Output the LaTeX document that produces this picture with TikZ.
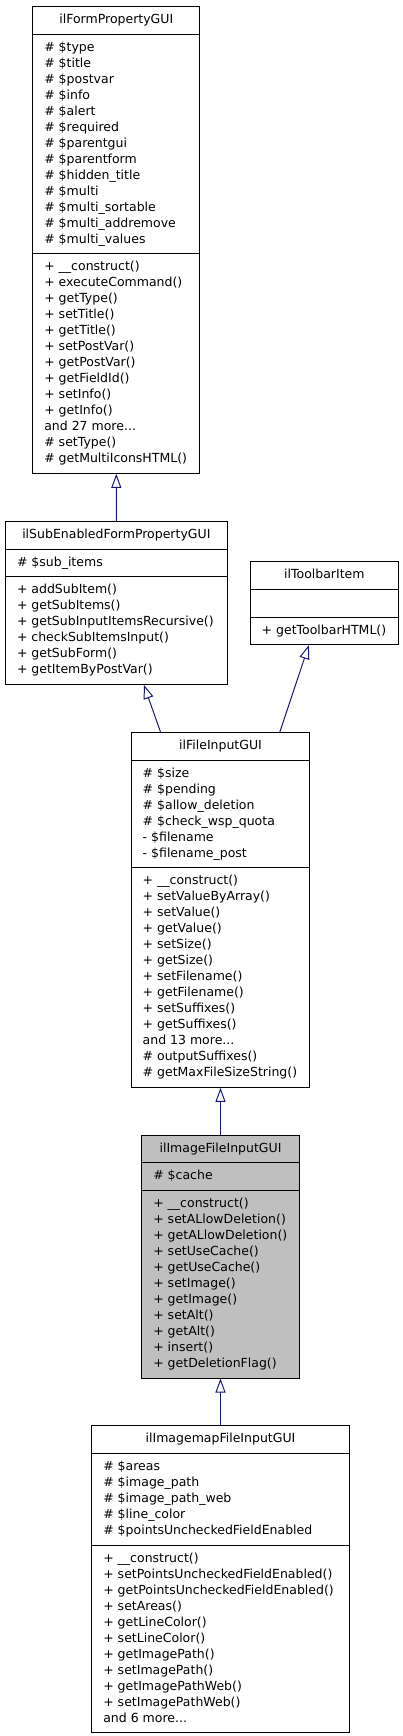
\documentclass[tikz,border=0pt]{standalone}
\usepackage{fontspec}
\setmainfont{DejaVu Sans}
\usetikzlibrary{shapes.multipart,arrows.meta}

\definecolor{edgeblue}{HTML}{191970}
\definecolor{classgray}{HTML}{BFBFBF}

\tikzset{
  umlclass/.style={draw=black, line width=1pt, fill=white,
    rectangle split, rectangle split parts=3,
    rectangle split part align={center,left,left}, align=left,
    anchor=north west, inner xsep=11.5pt, inner ysep=5.3pt,
    font=\fontsize{12.5}{16}\selectfont},
  inherit/.style={draw=edgeblue, line width=1pt,
    -{Triangle[open,length=14pt,width=10pt]}}
}

\begin{document}
\begin{tikzpicture}[x=1pt,y=-1pt]
  \useasboundingbox (0,0) rectangle (403,1736);

  % base classes
  \node[umlclass, minimum width=167pt] (formprop) at (32.3,6) {\strut ilFormPropertyGUI
    \nodepart{second}\strut\# \$type\\ \# \$title\\ \# \$postvar\\ \# \$info\\
    \# \$alert\\ \# \$required\\ \# \$parentgui\\ \# \$parentform\\
    \# \$hidden\_title\\ \# \$multi\\ \# \$multi\_sortable\\
    \# \$multi\_addremove\\ \# \$multi\_values\strut
    \nodepart{third}\strut+ \_\_construct()\\ + executeCommand()\\ + getType()\\
    + setTitle()\\ + getTitle()\\ + setPostVar()\\ + getPostVar()\\
    + getFieldId()\\ + setInfo()\\ + getInfo()\\ and 27 more...\\
    \# setType()\\ \# getMultiIconsHTML()\strut};

  \node[umlclass, minimum width=221.7pt] (subform) at (5,521) {\strut ilSubEnabledFormPropertyGUI
    \nodepart{second}\strut\# \$sub\_items\strut
    \nodepart{third}\strut+ addSubItem()\\ + getSubItems()\\
    + getSubInputItemsRecursive()\\ + checkSubItemsInput()\\
    + getSubForm()\\ + getItemByPostVar()\strut};

  \node[umlclass, minimum width=148.3pt] (toolbar) at (249.7,561.3) {\strut ilToolbarItem
    \nodepart{second}\strut
    \nodepart{third}\strut+ getToolbarHTML()\strut};

  % file input
  \node[umlclass, minimum width=178.6pt] (fileinput) at (130.7,732) {\strut ilFileInputGUI
    \nodepart{second}\strut\# \$size\\ \# \$pending\\ \# \$allow\_deletion\\
    \# \$check\_wsp\_quota\\ - \$filename\\ - \$filename\_post\strut
    \nodepart{third}\strut+ \_\_construct()\\ + setValueByArray()\\ + setValue()\\
    + getValue()\\ + setSize()\\ + getSize()\\ + setFilename()\\
    + getFilename()\\ + setSuffixes()\\ + getSuffixes()\\ and 13 more...\\
    \# outputSuffixes()\\ \# getMaxFileSizeString()\strut};

  \node[umlclass, fill=classgray, minimum width=157.4pt] (imagefile) at (141.3,1134.7) {\strut ilImageFileInputGUI
    \nodepart{second}\strut\# \$cache\strut
    \nodepart{third}\strut+ \_\_construct()\\ + setALlowDeletion()\\
    + getALlowDeletion()\\ + setUseCache()\\ + getUseCache()\\
    + setImage()\\ + getImage()\\ + setAlt()\\ + getAlt()\\ + insert()\\
    + getDeletionFlag()\strut};

  \node[umlclass, minimum width=257.4pt] (imagemap) at (91.3,1425.3) {\strut ilImagemapFileInputGUI
    \nodepart{second}\strut\# \$areas\\ \# \$image\_path\\ \# \$image\_path\_web\\
    \# \$line\_color\\ \# \$pointsUncheckedFieldEnabled\strut
    \nodepart{third}\strut+ \_\_construct()\\ + setPointsUncheckedFieldEnabled()\\
    + getPointsUncheckedFieldEnabled()\\ + setAreas()\\ + getLineColor()\\
    + setLineColor()\\ + getImagePath()\\ + setImagePath()\\
    + getImagePathWeb()\\ + setImagePathWeb()\\ and 6 more...\strut};

  % inheritance
  \draw[inherit] (subform.north) -- (formprop.south);
  \draw[inherit] ([xshift=-60pt]fileinput.north) -- ([xshift=27.5pt]subform.south);
  \draw[inherit] ([xshift=59.3pt]fileinput.north) -- ([xshift=-15.5pt]toolbar.south);
  \draw[inherit] (imagefile.north) -- (fileinput.south);
  \draw[inherit] (imagemap.north) -- (imagefile.south);

\end{tikzpicture}
\end{document}
